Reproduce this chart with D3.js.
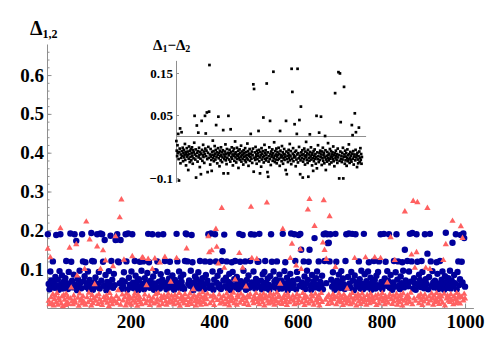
<!DOCTYPE html>
<html>
<head>
<meta charset="utf-8">
<script src="https://cdn.jsdelivr.net/npm/d3@7"></script>
<style>
    body { margin: 0; background: #fff; }
</style>
</head>
<body>
<script>
const width = 499;
const height = 349;

// values are x1000, one value per step of 2 on the x axis (2, 4, ..., 1000)
const blueMilli = [
    190, 62, 48, 94, 71, 55, 120, 66, 52, 80,
    188, 58, 73, 47, 95, 190, 61, 84, 50, 68,
    56, 77, 121, 64, 49, 93, 59, 192, 119, 70,
    53, 86, 190, 60, 173, 46, 74, 57, 96, 65,
    51, 190, 120, 69, 82, 118, 54, 63, 94, 48,
    72, 58, 193, 121, 47, 120, 66, 79, 55, 190,
    62, 93, 50, 192, 70, 190, 119, 57, 175, 85,
    46, 67, 54, 95, 61, 186, 121, 73, 52, 88,
    59, 175, 176, 190, 120, 118, 64, 175, 49, 71,
    56, 92, 68, 190, 120, 47, 192, 78, 60, 53,
    94, 190, 65, 51, 121, 83, 58, 69, 46, 74,
    119, 55, 96, 62, 120, 48, 77, 57, 66, 90,
    191, 118, 52, 70, 59, 190, 81, 47, 63, 95,
    54, 120, 189, 68, 50, 87, 61, 73, 190, 56,
    121, 65, 48, 93, 58, 76, 119, 53, 69, 84,
    60, 47, 72, 56, 191, 120, 64, 94, 51, 79,
    67, 55, 86, 49, 121, 192, 190, 120, 62, 71,
    57, 96, 188, 118, 46, 66, 81, 53, 74, 59,
    92, 50, 121, 68, 61, 77, 55, 48, 120, 85,
    63, 70, 190, 52, 119, 192, 58, 94, 47, 73,
    190, 120, 65, 83, 54, 60, 95, 49, 121, 146,
    71, 189, 56, 78, 120, 51, 67, 88, 62, 46,
    118, 93, 58, 74, 121, 53, 80, 64, 48, 191,
    119, 69, 55, 188, 96, 61, 120, 47, 72, 57,
    84, 52, 121, 190, 66, 59, 94, 189, 50, 75,
    63, 119, 120, 191, 54, 70, 48, 87, 58, 93,
    121, 65, 51, 76, 60, 47, 82, 190, 119, 56,
    94, 68, 53, 73, 120, 49, 62, 86, 57, 71,
    50, 191, 64, 95, 118, 55, 78, 46, 67, 59,
    88, 192, 52, 70, 61, 190, 121, 48, 93, 74,
    188, 57, 191, 150, 66, 54, 120, 81, 49, 63,
    96, 72, 119, 150, 58, 47, 85, 61, 69, 180,
    53, 77, 94, 60, 120, 50, 67, 56, 83, 48,
    190, 121, 192, 64, 190, 167, 168, 120, 190, 73,
    55, 92, 62, 47, 191, 119, 70, 58, 86, 51,
    68, 95, 54, 76, 61, 49, 121, 190, 57, 80,
    192, 63, 52, 93, 191, 71, 46, 84, 190, 59,
    66, 55, 120, 74, 50, 96, 62, 48, 191, 87,
    58, 69, 53, 94, 118, 61, 78, 47, 65, 56,
    121, 72, 50, 83, 59, 93, 120, 54, 190, 67,
    48, 62, 191, 76, 119, 57, 95, 70, 190, 52,
    85, 60, 47, 66, 121, 55, 92, 190, 73, 120,
    58, 49, 81, 64, 118, 96, 53, 150, 71, 61,
    121, 56, 94, 191, 68, 120, 193, 50, 77, 63,
    47, 190, 119, 59, 86, 72, 54, 121, 93, 65,
    51, 190, 74, 62, 140, 48, 80, 191, 120, 57,
    95, 66, 53, 70, 58, 118, 88, 49, 63, 121,
    55, 73, 94, 60, 47, 82, 194, 68, 52, 77,
    61, 96, 50, 71, 168, 57, 85, 64, 190, 48,
    93, 120, 59, 74, 188, 119, 66, 192, 180, 55
];

const pinkMilli = [
    152, 18, 9, 130, 27, 12, 35, 6, 22, 31,
    14, 38, 8, 25, 19, 205, 11, 29, 4, 33,
    21, 7, 36, 15, 28, 10, 155, 24, 52, 17,
    9, 32, 20, 13, 164, 83, 26, 5, 37, 18,
    23, 11, 30, 16, 100, 8, 222, 27, 14, 39,
    176, 20, 6, 33, 12, 25, 61, 18, 29, 158,
    10, 35, 22, 100, 15, 7, 148, 28, 19, 122,
    31, 13, 24, 4, 38, 17, 26, 9, 107, 21,
    16, 184, 30, 12, 45, 23, 233, 8, 279, 34,
    19, 124, 27, 6, 36, 14, 22, 31, 11, 25,
    8, 133, 18, 29, 37, 13, 24, 5, 33, 20,
    27, 15, 9, 130, 128, 22, 34, 12, 58, 18,
    126, 30, 7, 21, 16, 100, 26, 11, 127, 35,
    14, 23, 38, 6, 117, 19, 29, 10, 25, 32,
    131, 17, 8, 28, 36, 13, 21, 67, 31, 15,
    24, 9, 33, 19, 128, 27, 12, 38, 5, 22,
    30, 16, 25, 11, 35, 20, 153, 7, 28, 14,
    37, 21, 10, 26, 48, 32, 17, 6, 23, 29,
    13, 34, 19, 8, 27, 40, 15, 24, 31, 9,
    22, 36, 184, 143, 12, 29, 148, 18, 33, 7,
    26, 203, 157, 20, 114, 34, 11, 24, 257, 15,
    30, 103, 9, 22, 37, 14, 28, 6, 19, 32,
    17, 25, 39, 12, 73, 21, 8, 33, 27, 141,
    13, 36, 20, 103, 29, 10, 24, 55, 16, 31,
    7, 27, 35, 260, 128, 19, 12, 30, 23, 38,
    126, 15, 25, 9, 33, 21, 28, 14, 36, 6,
    24, 31, 271, 18, 11, 29, 37, 20, 13, 26,
    34, 8, 22, 17, 39, 27, 12, 30, 62, 19,
    10, 203, 25, 33, 15, 21, 7, 36, 28, 14,
    128, 23, 165, 31, 18, 9, 26, 109, 35, 12,
    20, 29, 151, 100, 14, 38, 24, 7, 32, 17,
    27, 253, 11, 280, 22, 34, 16, 29, 8, 211,
    36, 19, 25, 13, 31, 6, 23, 38, 15, 168,
    277, 149, 21, 126, 28, 10, 33, 236, 18, 26,
    12, 35, 22, 30, 105, 9, 27, 16, 37, 20,
    31, 14, 25, 7, 34, 19, 28, 11, 50, 23,
    17, 32, 9, 26, 38, 13, 21, 128, 30, 6,
    24, 35, 16, 29, 10, 22, 37, 14, 27, 19,
    130, 8, 33, 20, 26, 12, 36, 18, 29, 23,
    15, 130, 31, 7, 25, 34, 11, 21, 128, 28,
    38, 17, 24, 9, 30, 19, 65, 13, 27, 35,
    182, 22, 10, 31, 16, 123, 26, 36, 8, 20,
    29, 14, 33, 23, 6, 37, 18, 248, 25, 11,
    32, 21, 27, 15, 39, 137, 9, 275, 24, 103,
    18, 143, 272, 30, 12, 26, 35, 20, 7, 28,
    16, 34, 103, 23, 257, 11, 29, 100, 19, 37,
    25, 8, 31, 14, 22, 38, 17, 27, 10, 33,
    21, 29, 13, 123, 36, 6, 164, 24, 32, 18,
    27, 15, 35, 20, 224, 9, 30, 23, 12, 38,
    16, 26, 33, 11, 210, 28, 180, 19, 36, 24
];

// inset: delta1 - delta2, x1000
const diffMilli = [
    -12, -35, -48, -22, -41, 5, -55, -106, -38, -30,
    18, -65, -44, -52, 9, -36, -47, -28, -60, -40,
    -33, -51, -45, -19, -57, -38, -70, -42, -29, -49,
    -46, -37, -81, -54, -25, -43, -62, -35, -50, -31,
    -58, -41, -27, -47, -66, -34, -53, -39, -16, 48,
    -44, -56, -32, -99, -48, 25, -40, -61, -36, 8,
    -51, -28, -45, -74, -38, -54, -91, -42, 36, -33,
    -59, -46, -21, -50, -37, -64, -43, 48, -30, 6,
    -48, -35, 56, -55, -86, -40, -26, -52, 58, 169,
    -44, -68, -31, -49, -57, -83, -38, -45, -11, -53,
    -36, -60, -47, -24, -42, -56, -33, 26, -50, -39,
    -65, -45, -29, 46, -53, -41, -72, -35, -48, -58,
    -27, -46, -39, -62, -51, -34, 14, -89, -44, -55,
    -37, -49, -20, -58, -43, -67, -31, -52, -40, -89,
    48, -46, -56, -33, -41, -61, 16, -38, -50, -27,
    -54, -44, -70, -36, -47, -30, -59, -42, -13, -51,
    -39, -63, -45, -28, -55, -48, -35, -76, -43, -52,
    -32, -57, -40, -49, -23, -61, -46, -37, -54, -44,
    -68, -34, -50, -41, -58, -29, -47, -62, -38, -53,
    -45, -18, -56, -36, -71, -48, -42, -31, -59, -50,
    5, -43, -54, -37, -64, -46, -30, 123, -85, 112,
    -52, -39, -57, -26, -49, -44, -66, -35, -55, -41,
    -47, 12, -33, -60, -51, -89, -38, -45, -73, -29,
    -56, -42, -50, -36, 44, -63, -47, -21, -54, -40,
    -34, -58, -45, 125, -52, -86, -39, -97, -61, -48,
    -27, -55, 36, -43, -69, -37, -50, -46, -32, -59,
    -41, 153, -53, -15, -47, -62, -36, -56, -44, -30,
    -65, -49, -38, -57, -45, -28, -54, -42, -71, 12,
    -35, -51, -46, -60, -24, -48, -39, -66, -53, -43,
    -31, -57, -44, -50, -81, 36, -37, -91, -55, -47,
    -62, -40, -33, -52, -45, -19, -58, -48, -36, -67,
    160, -54, 105, -42, -29, -60, -46, -51, 28, -38,
    -49, -72, -35, -56, 5, -44, 160, -63, -41, -53,
    -26, 38, -47, -91, -58, 70, -39, -52, -45, -34,
    -99, -61, -43, -55, -30, -48, -68, -37, -51, -14,
    -46, -57, -40, -64, -33, -97, -52, -44, -59, 4,
    -38, -49, -27, -56, -45, -70, -41, -53, -83, -36,
    -60, -47, -32, -54, -43, -66, -50, 48, -77, -39,
    -55, -22, -48, -62, 8, -41, -57, -35, -50, 46,
    -44, -69, -37, -53, -28, -59, -46, -40, -65, -51,
    0, -34, -81, -56, -47, -61, -38, -52, -17, -45,
    -58, -42, -67, -31, -54, -49, -36, -63, -44, -50,
    -39, -55, -25, -60, -46, -72, -41, 102, -53, -35,
    -48, -57, -43, -64, -30, -51, 152, -45, -101, -59,
    149, -37, 33, -54, -47, -62, -40, -56, -28, -101,
    -50, 117, -44, -66, -35, -58, -49, -41, -71, -53,
    -32, -60, -46, -55, -20, -43, -64, -52, -38, -57,
    -47, -61, 26, -42, 2, -54, -36, -68, -49, -44,
    54, -58, -33, 9, -51, -45, -74, -40, -56, -65,
    -48, 20, -37, -62, -52, -29, -57, -43, -66, -50
];

const xTicks = [200, 400, 600, 800, 1000];
const xMinor = d3.range(50, 1001, 50);
const yTicks = [0.1, 0.2, 0.3, 0.4, 0.5, 0.6];
const yMinor = d3.range(0.02, 0.67, 0.02);
const insetTicks = [0.15, 0.05, -0.1];

const color = {
    blue: "#00009c",
    pink: "#ff6161",
    black: "#000",
    axis: "#8f8f8f",
    text: "#000"
};
const serif = "'Liberation Serif', 'Times New Roman', serif";

const xOf = i => (i + 1) * 2;

let svg = d3.select("body").append("svg")
    .attr("width", width)
    .attr("height", height)
    .style("display", "block");

svg.append("rect")
    .attr("width", width)
    .attr("height", height)
    .attr("fill", "#fff");

// main plot
let x = d3.scaleLinear().domain([0, 1020]).range([47, 473.4]);
let y = d3.scaleLinear().domain([0, 0.68]).range([308, 44]);

function styleAxis(g, size) {
    g.attr("font-family", serif)
        .attr("font-size", size)
        .attr("font-weight", "bold");
    g.select(".domain").attr("stroke", color.axis);
    g.selectAll(".tick line").attr("stroke", color.axis);
    g.selectAll(".tick text").attr("fill", color.text);
}

svg.append("g")
    .attr("transform", "translate(0,308)")
    .call(d3.axisBottom(x).tickValues(xMinor).tickSize(-2.5).tickSizeOuter(0).tickFormat(""))
    .call(g => styleAxis(g, 19));

svg.append("g")
    .attr("transform", "translate(0,308)")
    .call(d3.axisBottom(x).tickValues(xTicks).tickSize(-4.5).tickPadding(7).tickFormat(d3.format("d")))
    .call(g => styleAxis(g, 19))
    .call(g => g.select(".domain").remove());

svg.append("g")
    .attr("transform", "translate(47,0)")
    .call(d3.axisLeft(y).tickValues(yMinor).tickSize(-2.5).tickSizeOuter(0).tickFormat(""))
    .call(g => styleAxis(g, 19));

svg.append("g")
    .attr("transform", "translate(47,0)")
    .call(d3.axisLeft(y).tickValues(yTicks).tickSize(-4.5).tickPadding(3).tickFormat(d3.format(".1f")))
    .call(g => styleAxis(g, 19))
    .call(g => g.select(".domain").remove());

let yTitle = svg.append("text")
    .attr("x", 30)
    .attr("y", 35)
    .attr("font-family", serif)
    .attr("font-weight", "bold")
    .attr("font-size", 20)
    .attr("fill", color.text);
yTitle.append("tspan").text("Δ");
yTitle.append("tspan").attr("font-size", 12).attr("dy", 3).text("1,2");

svg.append("g")
    .selectAll("circle")
    .data(blueMilli)
    .enter()
    .append("circle")
    .attr("cx", (d, i) => x(xOf(i)))
    .attr("cy", d => y(d / 1000))
    .attr("r", 3.2)
    .attr("fill", color.blue);

let tri = d3.symbol().type(d3.symbolTriangle).size(17);
svg.append("g")
    .selectAll("path")
    .data(pinkMilli)
    .enter()
    .append("path")
    .attr("d", tri)
    .attr("transform", (d, i) => "translate(" + x(xOf(i)) + "," + y(d / 1000) + ")")
    .attr("fill", color.pink);

// inset
let ix = d3.scaleLinear().domain([0, 1020]).range([176, 365.6]);
let iy = d3.scaleLinear().domain([-0.11, 0.18]).range([182.2, 60.4]);

svg.append("g")
    .attr("transform", "translate(0," + iy(0) + ")")
    .call(d3.axisBottom(ix).tickValues([]).tickSizeOuter(0))
    .call(g => styleAxis(g, 13));

svg.append("g")
    .attr("transform", "translate(176,0)")
    .call(d3.axisLeft(iy).tickValues(insetTicks).tickSize(-3).tickSizeOuter(0).tickPadding(3)
        .tickFormat(d => d3.format(d === 0.15 || d === 0.05 ? ".2f" : ".1f")(d)))
    .call(g => styleAxis(g, 13));

let insetTitle = svg.append("text")
    .attr("x", 153)
    .attr("y", 49.5)
    .attr("font-family", serif)
    .attr("font-weight", "bold")
    .attr("font-size", 15)
    .attr("fill", color.text);
insetTitle.append("tspan").text("Δ");
insetTitle.append("tspan").attr("font-size", 10).attr("dy", 2).text("1");
insetTitle.append("tspan").attr("dy", -2).text("−Δ");
insetTitle.append("tspan").attr("font-size", 10).attr("dy", 2).text("2");

svg.append("g")
    .selectAll("rect")
    .data(diffMilli)
    .enter()
    .append("rect")
    .attr("x", (d, i) => ix(xOf(i)) - 1.35)
    .attr("y", d => iy(d / 1000) - 1.35)
    .attr("width", 2.7)
    .attr("height", 2.7)
    .attr("fill", color.black);
</script>
</body>
</html>
